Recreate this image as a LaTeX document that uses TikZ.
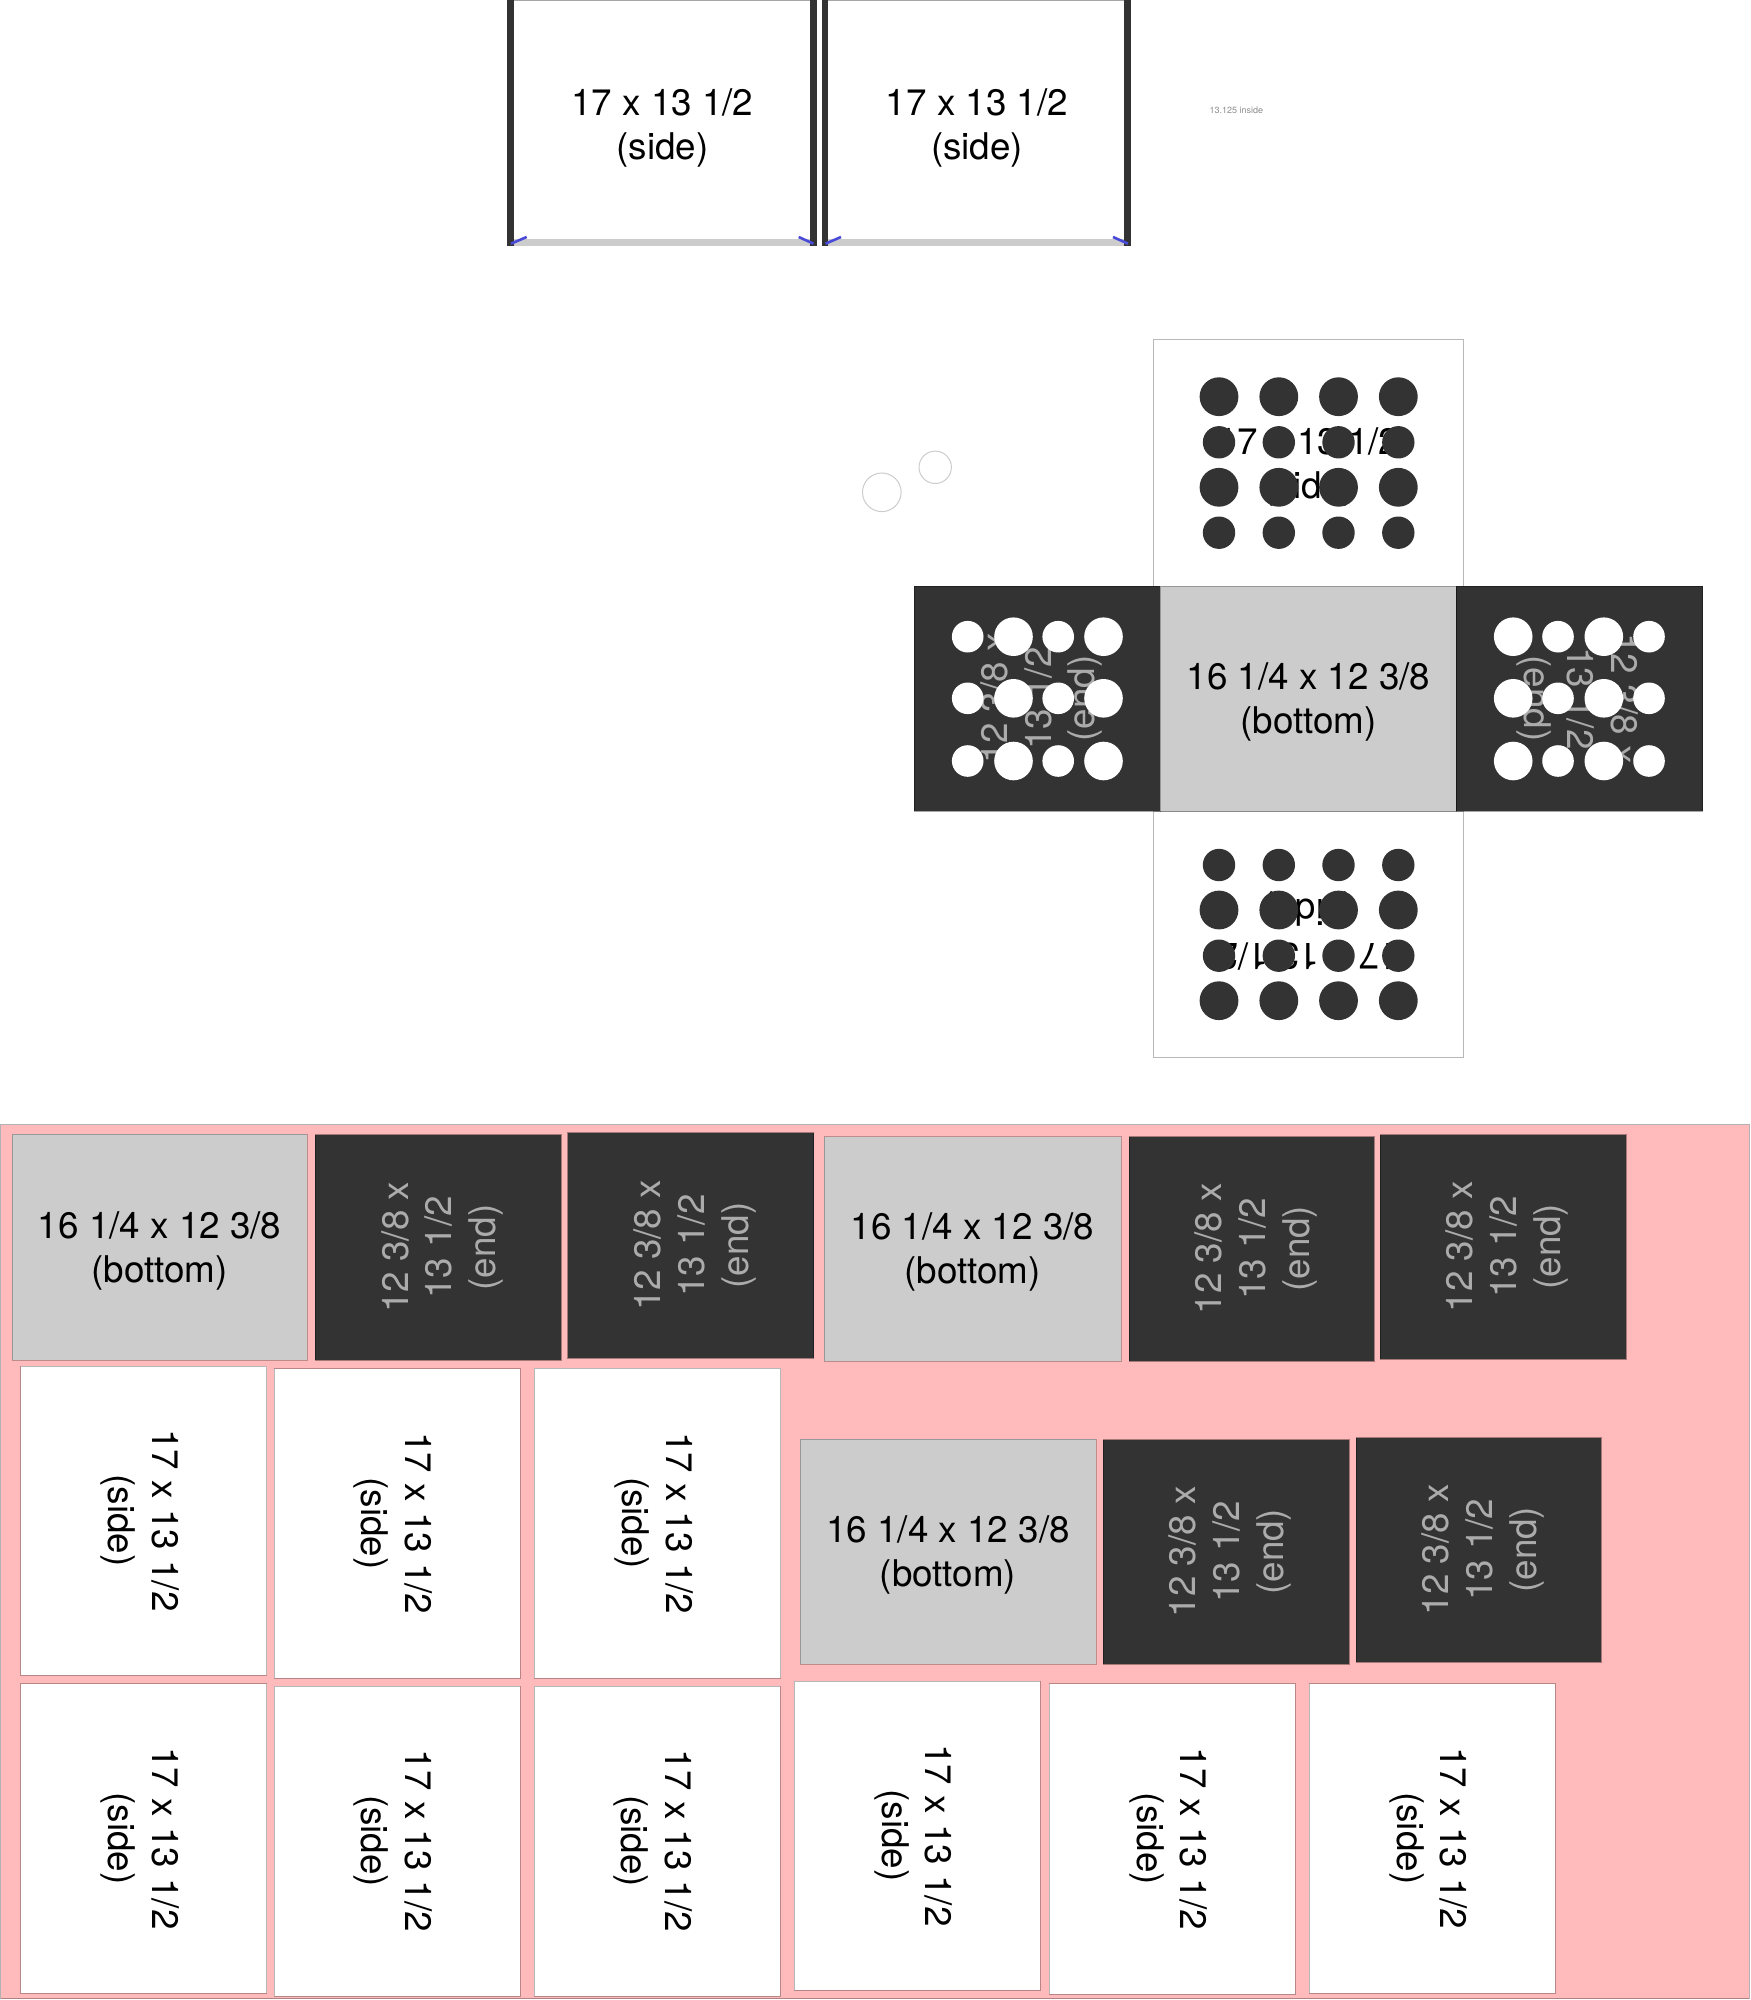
\documentclass[tikz,border=0pt]{standalone}
\usepackage{fontspec}
\setmainfont{TeX Gyre Heros}
\definecolor{dk}{HTML}{333333}
\definecolor{gy}{HTML}{CCCCCC}
\definecolor{pk}{HTML}{FFBBBB}
\definecolor{ed}{HTML}{ABABAB}
\definecolor{blu}{HTML}{4A4AD8}
\newcommand{\SideBox}[5]{\draw[sidebox] (#2,#3) rectangle (#4,#5) node[pos=.5,rotate=#1,sidetext] {17 x 13 1/2\\(side)};}
\newcommand{\EndBox}[5]{\draw[endbox] (#2,#3) rectangle (#4,#5) node[pos=.5,rotate=#1,endtext] {12 3/8 x\\13 1/2\\(end)};}
\newcommand{\BotBox}[4]{\draw[botbox] (#1,#2) rectangle (#3,#4) node[pos=.5,sidetext] {16 1/4 x 12 3/8\\(bottom)};}
\tikzset{
  sidebox/.style={draw=black,draw opacity=.28,line width=.5pt,fill=white},
  endbox/.style={draw=black,draw opacity=.35,line width=.4pt,fill=dk},
  botbox/.style={draw=black,draw opacity=.25,line width=.5pt,fill=gy},
  sidetext/.style={align=center,text=black,inner sep=0,yshift=-1.8pt,font=\fontsize{18.4pt}{21.9pt}\selectfont},
  endtext/.style={align=center,text=ed,inner sep=0,yshift=-2.1pt,font=\fontsize{18.4pt}{21.9pt}\selectfont},
  tick/.style={draw=blu,line width=1.3pt},
  dotd/.style={fill=dk,draw=none},
  dotw/.style={fill=white,draw=none},
  ring/.style={draw=gy,line width=.5pt,fill=white}
}
\begin{document}
\begin{tikzpicture}[x=.5pt,y=-.5pt]
\useasboundingbox (0,0) rectangle (1750,2000);
% top panels
\foreach \a/\b/\c/\d in {507.2/514.3/810/817,821.6/828.4/1124/1131}{
  \fill[gy] (\a,239.3) rectangle (\d,246.2);
  \draw[black!35,line width=.5pt] (\a,.3) -- (\d,.3);
  \fill[dk] (\a,0) rectangle (\b,246.2);
  \fill[dk] (\c,0) rectangle (\d,246.2);
}
\draw[tick] (511,243.7) -- (526.7,237);
\draw[tick] (798.7,237) -- (813.5,243.7);
\draw[tick] (825.5,243.7) -- (841,237);
\draw[tick] (1113,237) -- (1128,243.7);
\node[sidetext] (t1) at (662.4,124.5) {17 x 13 1/2\\(side)};
\node[sidetext] (t2) at (977,124.5) {17 x 13 1/2\\(side)};
\node[inner sep=0,text=black!45,font=\fontsize{4.5pt}{5pt}\selectfont] (note) at (1236.4,110.7) {13.125 inside};
% hollow circles
\draw[ring] (881.8,492.3) circle[radius=19.3];
\draw[ring] (935.2,467.3) circle[radius=16.2];
% net
\SideBox{0}{1153.4}{340}{1463.3}{586}
\SideBox{180}{1153.6}{811.5}{1463.8}{1057.3}
\foreach \x in {1219,1278.8,1338.5,1398.3}{
  \fill[dotd] (\x,396.7) circle[radius=19.4];
  \fill[dotd] (\x,442.3) circle[radius=16.2];
  \fill[dotd] (\x,487.3) circle[radius=19.4];
  \fill[dotd] (\x,532.7) circle[radius=16.2];
  \fill[dotd] (\x,865) circle[radius=16.2];
  \fill[dotd] (\x,910) circle[radius=19.4];
  \fill[dotd] (\x,955.7) circle[radius=16.2];
  \fill[dotd] (\x,1000.7) circle[radius=19.4];
}
\EndBox{90}{914.3}{586}{1160.4}{811}
\draw[endbox] (1456.4,586) rectangle (1702.5,811) node[pos=.5,rotate=-90,endtext,yshift=1.1pt] {12 3/8 x\\13 1/2\\(end)};
\BotBox{1160.4}{586}{1456.4}{811}
\foreach \y in {636.7,698.3,761}{
  \fill[dotw] (967.7,\y) circle[radius=15.8];
  \fill[dotw] (1013.5,\y) circle[radius=19.3];
  \fill[dotw] (1058.2,\y) circle[radius=15.8];
  \fill[dotw] (1103.5,\y) circle[radius=19.3];
  \fill[dotw] (1513.2,\y) circle[radius=19.3];
  \fill[dotw] (1558,\y) circle[radius=15.8];
  \fill[dotw] (1603.8,\y) circle[radius=19.3];
  \fill[dotw] (1649,\y) circle[radius=15.8];
}
% sheet
\draw[fill=pk,draw=black,draw opacity=.3,line width=.5pt] (.5,1124.7) rectangle (1749,1998.7);
\BotBox{12}{1134.3}{307.3}{1360}
\EndBox{90}{315.4}{1134.7}{561}{1360}
\EndBox{90}{567.5}{1132.7}{813.5}{1358.3}
\BotBox{824}{1136.5}{1121}{1361}
\EndBox{90}{1129}{1136.5}{1374}{1361}
\EndBox{90}{1380}{1134.5}{1626}{1359}
\BotBox{800}{1439}{1096}{1664}
\EndBox{90}{1103}{1439.5}{1349}{1664}
\EndBox{90}{1356}{1437.5}{1601}{1662}
\SideBox{-90}{20.5}{1366}{266.5}{1675}
\SideBox{-90}{274}{1368.7}{520}{1678}
\SideBox{-90}{534.4}{1368.3}{780.5}{1678}
\SideBox{-90}{20.5}{1683.5}{266.5}{1993.3}
\SideBox{-90}{274}{1686}{520}{1996}
\SideBox{-90}{534}{1686}{780}{1996}
\SideBox{-90}{794}{1681}{1040}{1990}
\SideBox{-90}{1049}{1683.5}{1295}{1994}
\SideBox{-90}{1309}{1683.5}{1555}{1993}
\end{tikzpicture}
\end{document}
